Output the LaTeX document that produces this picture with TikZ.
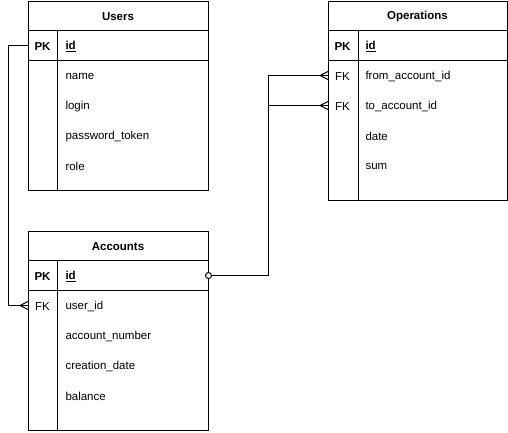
\documentclass[tikz,border=0pt]{standalone}
\usepackage{fontspec}
\setmainfont{Liberation Sans}
\begin{document}
\begin{tikzpicture}[x=1pt,y=-1pt,
  line width=1pt,
  tbl/.style={draw, minimum width=180pt, inner sep=0pt, anchor=north west},
  rowbox/.style={inner sep=0pt, minimum width=180pt, minimum height=30pt, anchor=north west},
  txt/.style={inner sep=0pt, yshift=-1.5pt, font=\fontsize{11.5}{13}\selectfont},
  title/.style={txt, font=\fontsize{11.5}{13}\selectfont\bfseries},
  key/.style={txt},
  pkkey/.style={txt, font=\fontsize{11.5}{13}\selectfont\bfseries},
  field/.style={txt, anchor=west},
  pkfield/.style={txt, font=\fontsize{11.5}{13}\selectfont\bfseries, anchor=west},
  rel/.style={line width=1pt}]
\useasboundingbox (0,0) rectangle (508,432);

% ---------- Users ----------
\node[tbl, minimum height=189pt] (u) at (28,1) {};
\draw (28,30) -- (208,30);
\draw (28,60) -- (208,60);
\draw (57,30) -- (57,190);
\node[title] (uT) at (118,15.5) {Users};
\node[rowbox] (uPK) at (28,30) {};
\node[pkkey] (uPKk) at (42.5,45) {PK};
\node[pkfield] (uPKf) at (65,45) {\underline{id}};
\node[field] (u1) at (65,75) {name};
\node[field] (u2) at (65,105) {login};
\node[field] (u3) at (65,135) {password\_token};
\node[field] (u4) at (65,165) {role};

% ---------- Accounts ----------
\node[tbl, minimum height=199pt] (a) at (28,231) {};
\draw (28,260) -- (208,260);
\draw (28,290) -- (208,290);
\draw (57,260) -- (57,430);
\node[title] (aT) at (118,245.5) {Accounts};
\node[rowbox] (aPK) at (28,260) {};
\node[rowbox] (aFK) at (28,290) {};
\node[pkkey] (aPKk) at (42.5,275) {PK};
\node[pkfield] (aPKf) at (65,275) {\underline{id}};
\node[key] (aFKk) at (42.5,305) {FK};
\node[field] (a1) at (65,305) {user\_id};
\node[field] (a2) at (65,335) {account\_number};
\node[field] (a3) at (65,365) {creation\_date};
\node[field] (a4) at (65,395) {balance};

% ---------- Operations ----------
\node[tbl, minimum width=179pt, minimum height=199pt] (o) at (328,1) {};
\draw (328,30) -- (507,30);
\draw (328,60) -- (507,60);
\draw (358,30) -- (358,200);
\node[title] (oT) at (417.5,15.5) {Operations};
\node[rowbox, minimum width=179pt] (oFKa) at (328,60) {};
\node[rowbox, minimum width=179pt] (oFKb) at (328,90) {};
\node[pkkey] (oPKk) at (342.5,45) {PK};
\node[pkfield] (oPKf) at (365,45) {\underline{id}};
\node[key] (oFK1) at (342.5,75) {FK};
\node[field] (o1) at (365,75) {from\_account\_id};
\node[key] (oFK2) at (342.5,105) {FK};
\node[field] (o2) at (365,105) {to\_account\_id};
\node[field] (o3) at (365,135) {date};
\node[field] (o4) at (365,165) {sum};

% ---------- Relations ----------
% Users.id -> Accounts.user_id (one to many)
\coordinate (c1) at ([xshift=-20pt]uPK.west);
\draw[rel] (uPK.west) -- (c1) |- (aFK.west);
\draw[rel] ([xshift=-8pt]aFK.west) -- ([yshift=-4pt]aFK.west)
           ([xshift=-8pt]aFK.west) -- ([yshift=4pt]aFK.west);

% Accounts.id -> Operations.from/to_account_id
\coordinate (c2) at (268,0);
\draw[rel] (aPK.east) -- (c2 |- aPK.east) -- (c2 |- oFKa.west) -- (oFKa.west);
\draw[rel] (c2 |- oFKb.west) -- (oFKb.west);
\foreach \r in {oFKa,oFKb}{
  \draw[rel] ([xshift=-8pt]\r.west) -- ([yshift=-4pt]\r.west)
             ([xshift=-8pt]\r.west) -- ([yshift=4pt]\r.west);
}
\node[circle, draw, fill=white, line width=1pt, minimum size=6pt, inner sep=0pt] (zero) at ([xshift=-0.5pt]aPK.east) {};
\end{tikzpicture}
\end{document}
